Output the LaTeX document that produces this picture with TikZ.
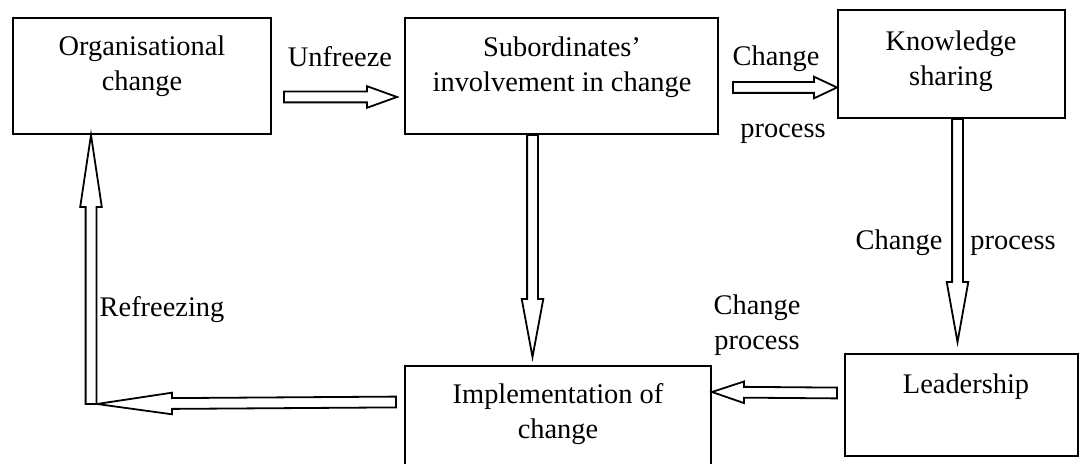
\documentclass[tikz,border=0pt]{standalone}
\usepackage{fontspec}
\setmainfont{Liberation Serif}
\usetikzlibrary{calc,positioning}

% hollow block arrow: [head length]{tail}{tip}
\newcommand\blockarrow[3][15pt]{%
  \coordinate (hb) at ($(#3)!#1!(#2)$);
  \draw[blockline] ($(#2)!2.7pt!90:(#3)$) -- ($(hb)!2.7pt!90:(#3)$)
    -- ($(hb)!5.4pt!90:(#3)$) -- (#3) -- ($(hb)!5.4pt!-90:(#3)$)
    -- ($(hb)!2.7pt!-90:(#3)$) -- ($(#2)!2.7pt!-90:(#3)$) -- cycle;}

\begin{document}
\begin{tikzpicture}[x=0.5pt,y=-0.5pt,
    box/.style={draw,line width=1pt,inner sep=0pt},
    txt/.style={font=\fontsize{14.2pt}{17.5pt}\selectfont,align=center,inner sep=0pt},
    lbl/.style={txt,anchor=base},
    blockline/.style={line width=0.9pt,fill=white}]
    \useasboundingbox (0,0) rectangle (1080,464);
    % boxes
    \node[box,minimum width=129pt,minimum height=58pt]   (org)  at (142,76)    {};
    \node[box,minimum width=156.5pt,minimum height=58pt] (sub)  at (561.5,76)  {};
    \node[box,minimum width=113.5pt,minimum height=54pt] (know) at (951.5,64)  {};
    \node[box,minimum width=116.5pt,minimum height=51pt] (lead) at (961.5,405) {};
    \node[box,minimum width=153pt,minimum height=58pt]   (impl) at (558,424)   {};
    \node[txt] (orgtxt)  at (142,66)  {Organisational\\change};
    \node[txt] (subtxt)  at (562,67)  {Subordinates'\\involvement in change};
    \node[txt] (knowtxt) at (951,61)  {Knowledge\\sharing};
    \node[txt] (leadtxt) at (966,387) {Leadership};
    \node[txt] (impltxt) at (558,414) {Implementation of\\change};
    % arrow ends
    \coordinate (u1) at ($(org.east)+(12,21)$);
    \coordinate (u2) at ($(sub.west)+(-7,21)$);
    \coordinate (c1) at ($(sub.east)+(14,11.5)$);
    \coordinate (c2) at ($(know.west)+(0,23.5)$);
    \coordinate (d1) at ($(sub.south)+(-29,0)$);
    \coordinate (d2) at ($(impl.north)+(-25.5,-8)$);
    \coordinate (k1) at ($(know.south)+(6,0)$);
    \coordinate (k2) at ($(lead.north)+(-4,-11)$);
    \coordinate (l1) at ($(lead.west)+(-7,-12)$);
    \coordinate (l2) at ($(impl.north east)+(0,27)$);
    \coordinate (bend) at ($(org.south west)+(79,269)$);
    \coordinate (r2) at (bend |- org.south);
    \coordinate (i1) at ($(impl.north west)+(-8,37)$);
    \coordinate (i2) at ($(bend)+(6,0)$);
    \foreach \a/\b/\h in {u1/u2/15pt,c1/c2/11.5pt,d1/d2/29pt,k1/k2/30pt,
                          l1/l2/16pt,bend/r2/36pt,i1/i2/37.5pt}
      \blockarrow[\h]{\a}{\b};
    % labels
    \node[lbl] (unfr) at (340,67)  {Unfreeze};
    \node[lbl] (chg1) at (776,66)  {Change};
    \node[lbl] (prc1) at (783,138) {process};
    \node[lbl] (chg2) at (899,250) {Change};
    \node[lbl] (prc2) at (1013,250) {process};
    \node[lbl] (refr) at (162,316) {Refreezing};
    \node[txt] (chg3) at (757,325) {Change\\process};
\end{tikzpicture}
\end{document}
